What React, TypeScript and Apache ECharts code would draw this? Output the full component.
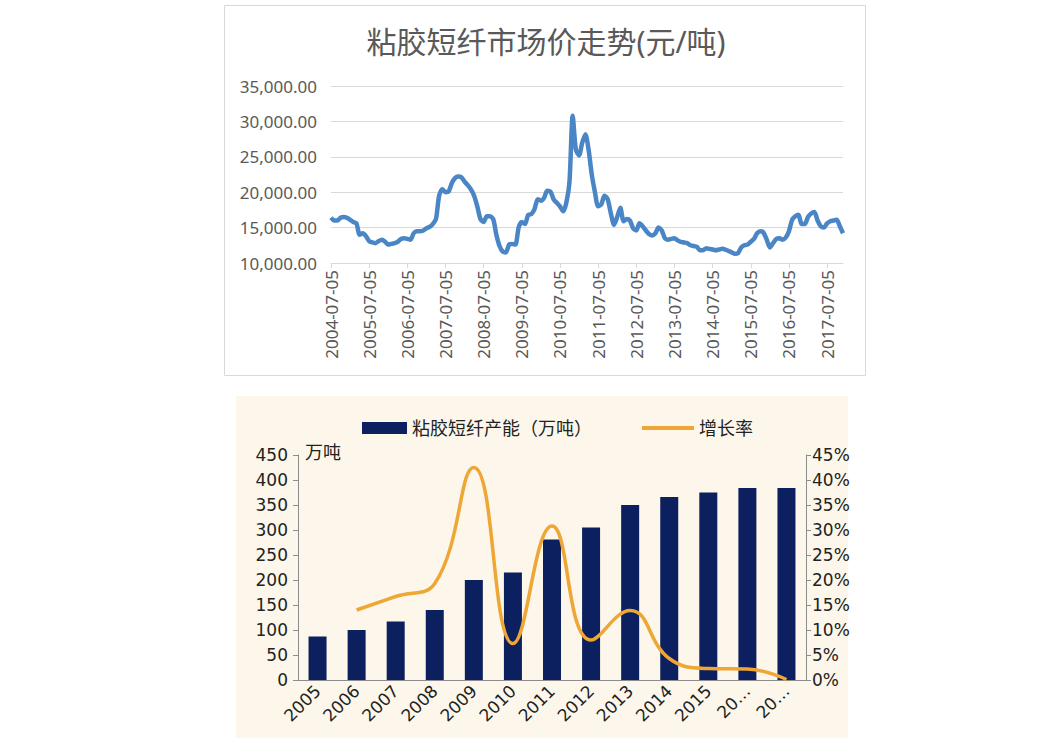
import React, { useEffect, useRef } from "react";
import * as echarts from "echarts";

// ---------- Top chart: 粘胶短纤市场价走势 ----------
const priceTitle = "粘胶短纤市场价走势(元/吨)";
const priceStartYear = 2004;
const priceStartMonth = 7;
const priceValues = [
  16400, 16000, 16000, 16400, 16500, 16400, 16100, 15800, 15600, 14000, 14200, 13800,
  13100, 12900, 12800, 13100, 13300, 13000, 12600, 12700, 12800, 13000, 13400, 13500,
  13400, 13300, 14200, 14500, 14500, 14600, 14900, 15100, 15500, 16200, 19500, 20400,
  20000, 20100, 21300, 22000, 22200, 22100, 21500, 21000, 20400, 19500, 18000, 16200,
  15800, 16600, 16600, 16200, 14000, 12400, 11600, 11500, 12600, 12700, 12600, 15000,
  15800, 15500, 16800, 16900, 17600, 19000, 18800, 19200, 20200, 20100, 19000, 18500,
  18000, 17300, 18500, 21500, 30800, 26000, 25200, 27000, 28200, 26000, 22500, 20000,
  18000, 18300, 19500, 19000, 17000, 15400, 16500, 17800, 15900, 16200, 16000, 14900,
  14600, 15600, 15200, 14600, 14100, 13900, 14200, 15000, 14600, 13500, 13300, 13400,
  13500, 13200, 13000, 12900, 12800, 12500, 12400, 12300, 11800, 11800, 12100, 12000,
  11900, 11800, 11900, 12000, 11900, 11700, 11500, 11300, 11400, 12200, 12500, 12600,
  13000, 13400, 14200, 14500, 14300, 13300, 12200, 12800, 13400, 13500, 13300, 13600,
  14500, 16100, 16600, 16800, 15500, 15500, 16500, 17000, 17200, 16000, 15200, 15000,
  15600, 15900, 16000, 16100, 15200, 14200,
];
const priceDates: string[] = priceValues.map((_, i) => {
  const m0 = priceStartMonth - 1 + i;
  const y = priceStartYear + Math.floor(m0 / 12);
  const m = (m0 % 12) + 1;
  return `${y}-${m < 10 ? "0" + m : m}-05`;
});
const priceMin = 10000;
const priceMax = 35000;
const priceStep = 5000;

// ---------- Bottom chart: 粘胶短纤产能 ----------
const capacityName = "粘胶短纤产能（万吨）";
const growthName = "增长率";
const capacityYears = ["2005", "2006", "2007", "2008", "2009", "2010", "2011", "2012", "2013", "2014", "2015", "2016", "2017"];
const capacityTickLabels = ["2005", "2006", "2007", "2008", "2009", "2010", "2011", "2012", "2013", "2014", "2015", "20…", "20…"];
const capacityValues = [87, 100, 117, 140, 200, 215, 281, 305, 350, 366, 375, 384, 384];
const growthValues = [null, 14, 16.7, 19.3, 42.5, 7.3, 30.8, 8, 13.9, 4.3, 2.3, 2.2, 0.1];
const capacityUnit = "万吨";

const CJK = '"Noto Sans", "Noto Sans CJK SC", sans-serif';
const BOT = '"DejaVu Sans", "Noto Sans CJK SC", sans-serif';
const BAR_COLOR = "#0c1f5e";
const LINE_COLOR = "#eea634";

export default function App() {
  const ref = useRef<HTMLDivElement>(null);
  useEffect(() => {
    if (!ref.current) return;
    const chart = echarts.init(ref.current, null, { renderer: "svg" });
    chart.setOption({
      animation: false,
      backgroundColor: "#ffffff",
      title: [
        {
          text: priceTitle,
          left: 541,
          top: 21,
          textAlign: "center",
          textStyle: { fontFamily: CJK, fontSize: 30, fontWeight: "normal", color: "#595959" },
        },
      ],
      graphic: [
        {
          type: "rect",
          z: -10,
          shape: { x: 224.5, y: 5.5, width: 641, height: 370 },
          style: { fill: "#ffffff", stroke: "#d9d9d9", lineWidth: 1 },
        },
        {
          type: "rect",
          z: -10,
          shape: { x: 236, y: 396, width: 612, height: 342 },
          style: { fill: "#fcf7ea" },
        },
        {
          type: "text",
          x: 305,
          y: 443,
          style: { text: capacityUnit, fontFamily: CJK, fontSize: 18, fill: "#222" },
        },
      ],
      legend: [
        {
          left: 357,
          top: 414,
          itemWidth: 45,
          itemHeight: 12,
          itemGap: 50,
          textStyle: { fontFamily: CJK, fontSize: 18, color: "#222" },
          data: [{ name: capacityName, icon: "rect" }],
        },
        {
          left: 637,
          top: 414,
          itemWidth: 52,
          itemHeight: 4,
          textStyle: { fontFamily: CJK, fontSize: 18, color: "#222" },
          data: [{ name: growthName, icon: "rect" }],
        },
      ],
      grid: [
        { left: 331, right: 219, top: 86, bottom: 482, containLabel: false },
        { left: 298, right: 256, top: 455, bottom: 65, containLabel: false },
      ],
      xAxis: [
        {
          gridIndex: 0,
          type: "category",
          data: priceDates,
          boundaryGap: false,
          axisLine: { lineStyle: { color: "#d9d9d9" } },
          axisTick: { interval: 11, length: 5, lineStyle: { color: "#d9d9d9" } },
          axisLabel: {
            interval: 11,
            rotate: 90,
            fontFamily: CJK,
            fontSize: 17,
            color: "#595959",
            margin: 7,
          },
        },
        {
          gridIndex: 1,
          type: "category",
          data: capacityYears,
          axisLine: { lineStyle: { color: "#8c8c8c" } },
          axisTick: { length: 6, lineStyle: { color: "#8c8c8c" } },
          axisLabel: {
            rotate: 45,
            fontFamily: BOT,
            fontSize: 17,
            color: "#222",
            margin: 8,
            formatter: (v: string, i: number) => capacityTickLabels[i],
          },
        },
      ],
      yAxis: [
        {
          gridIndex: 0,
          type: "value",
          min: priceMin,
          max: priceMax,
          interval: priceStep,
          axisLine: { show: false },
          axisTick: { show: false },
          splitLine: { lineStyle: { color: "#d9d9d9" } },
          axisLabel: {
            fontFamily: CJK,
            fontSize: 17,
            color: "#595959",
            margin: 14,
            formatter: (v: number) =>
              v.toLocaleString("en-US", { minimumFractionDigits: 2, maximumFractionDigits: 2 }),
          },
        },
        {
          gridIndex: 1,
          type: "value",
          min: 0,
          max: 450,
          interval: 50,
          axisLine: { show: true, lineStyle: { color: "#8c8c8c" } },
          axisTick: { show: true, length: 5, lineStyle: { color: "#8c8c8c" } },
          splitLine: { show: false },
          axisLabel: { fontFamily: BOT, fontSize: 17, color: "#222", margin: 10 },
        },
        {
          gridIndex: 1,
          type: "value",
          position: "right",
          min: 0,
          max: 45,
          interval: 5,
          axisLine: { show: true, lineStyle: { color: "#8c8c8c" } },
          axisTick: { show: true, length: 5, lineStyle: { color: "#8c8c8c" } },
          splitLine: { show: false },
          axisLabel: { fontFamily: BOT, fontSize: 17, color: "#222", margin: 6, formatter: "{value}%" },
        },
      ],
      series: [
        {
          name: "price",
          type: "line",
          xAxisIndex: 0,
          yAxisIndex: 0,
          data: priceValues,
          symbol: "none",
          smooth: 0.25,
          lineStyle: { color: "#4a86c5", width: 4.5 },
        },
        {
          name: capacityName,
          type: "bar",
          xAxisIndex: 1,
          yAxisIndex: 1,
          data: capacityValues,
          barWidth: 18,
          itemStyle: { color: BAR_COLOR },
        },
        {
          name: growthName,
          type: "line",
          xAxisIndex: 1,
          yAxisIndex: 2,
          data: growthValues,
          symbol: "none",
          smooth: 0.45,
          itemStyle: { color: LINE_COLOR },
          lineStyle: { color: LINE_COLOR, width: 3.5 },
        },
      ],
    });
    return () => chart.dispose();
  }, []);
  return (
    <div
      ref={ref}
      style={{ position: "absolute", left: 0, top: 0, width: 1062, height: 745 }}
    />
  );
}
